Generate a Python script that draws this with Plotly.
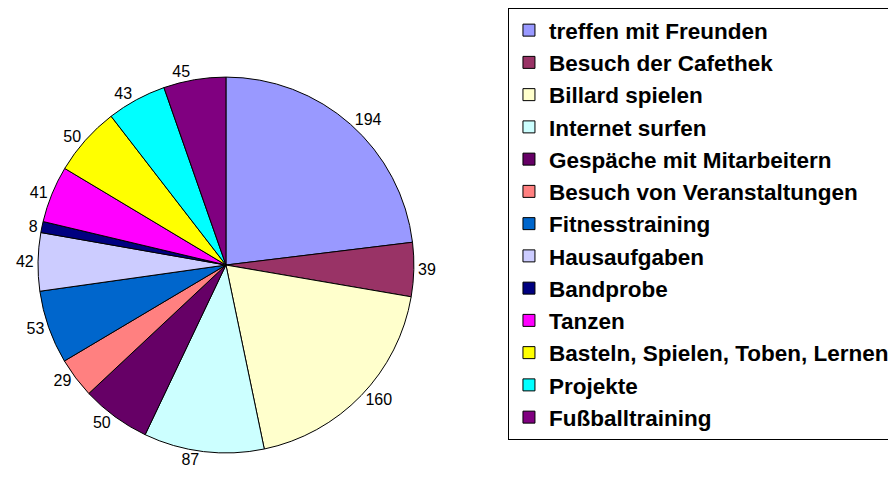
import plotly.graph_objects as go

labels = [
    "treffen mit Freunden", "Besuch der Cafethek", "Billard spielen",
    "Internet surfen", "Gespäche mit Mitarbeitern", "Besuch von Veranstaltungen",
    "Fitnesstraining", "Hausaufgaben", "Bandprobe", "Tanzen",
    "Basteln, Spielen, Toben, Lernen", "Projekte", "Fußballtraining",
]
values = [194, 39, 160, 87, 50, 29, 53, 42, 8, 41, 50, 43, 45]
colors = [
    "#9999FF", "#993366", "#FFFFCC", "#CCFFFF", "#660066", "#FF8080",
    "#0066CC", "#CCCCFF", "#000080", "#FF00FF", "#FFFF00", "#00FFFF", "#800080",
]

fig = go.Figure(go.Pie(
    labels=labels, values=values,
    sort=False, direction="clockwise", rotation=0,
    marker=dict(colors=colors, line=dict(color="black", width=1)),
    textinfo="value", textposition="outside",
    outsidetextfont=dict(family="Liberation Sans, Arial", size=16, color="black"),
    domain=dict(x=[0.0335, 0.453], y=[0.0748, 0.8565]),
))

fig.update_layout(
    width=896, height=481,
    margin=dict(l=0, r=0, t=0, b=0),
    paper_bgcolor="white",
    font=dict(family="Liberation Sans, Arial", color="black"),
    legend=dict(
        x=0.558, y=1.0, xanchor="left", yanchor="top",
        maxheight=480,
        bordercolor="black", borderwidth=1,
        font=dict(size=22.5, weight="bold", color="black"),
    ),
)

fig.write_html("out.html")
